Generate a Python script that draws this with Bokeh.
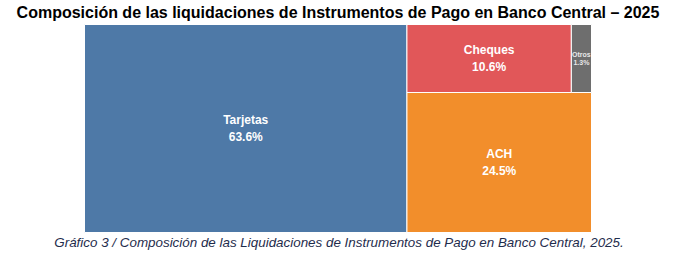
from bokeh.plotting import figure
from bokeh.models import ColumnDataSource, Range1d, Label
from bokeh.embed import file_html
from bokeh.resources import INLINE
from bokeh.core.properties import value

categories = ["Tarjetas", "ACH", "Cheques", "Otros"]
shares = [63.6, 24.5, 10.6, 1.3]
colors = ["#4E79A7", "#F28E2B", "#E15759", "#6E6E6E"]

W, H = 675, 257
AX, AY, AW, AH = 84, 24, 507, 208  # treemap area in pixel space (y down)


def worst(row, side, scale):
    s = sum(row) * scale
    mx, mn = max(row) * scale, min(row) * scale
    return max(side * side * mx / (s * s), s * s / (side * side * mn))


def squarify(vals, x, y, w, h):
    total = sum(vals)
    scale = (w * h) / total
    rects = []
    vals = list(vals)
    while vals:
        side = min(w, h)
        row = [vals[0]]
        i = 1
        while i < len(vals) and worst(row + [vals[i]], side, scale) <= worst(row, side, scale):
            row.append(vals[i])
            i += 1
        vals = vals[i:]
        area = sum(row) * scale
        if w >= h:
            cw = area / h
            cy = y
            for v in row:
                rh = v * scale / cw
                rects.append((x, cy, cw, rh))
                cy += rh
            x += cw
            w -= cw
        else:
            rh = area / w
            cx = x
            by = y + h - rh  # rows stacked from the bottom
            for v in row:
                rw = v * scale / rh
                rects.append((cx, by, rw, rh))
                cx += rw
            h -= rh
    return rects


rects = squarify(shares, AX, AY, AW, AH)

src = ColumnDataSource(dict(
    left=[r[0] for r in rects],
    right=[r[0] + r[2] for r in rects],
    top=[r[1] for r in rects],
    bottom=[r[1] + r[3] for r in rects],
    color=colors,
))

p = figure(width=W, height=H, output_backend="svg", toolbar_location=None,
           x_range=Range1d(0, W), y_range=Range1d(H, 0), min_border=0)
p.axis.visible = False
p.grid.visible = False
p.outline_line_color = None
p.background_fill_color = "white"
p.border_fill_color = "white"

p.quad(left="left", right="right", top="top", bottom="bottom", source=src,
       fill_color="color", line_color="white", line_width=1)

for (x, y, w, h), cat, s in zip(rects, categories, shares):
    small = w < 40
    fs = "7px" if small else "12px"
    p.text(x=[x + w / 2], y=[y + h / 2], text=[f"{cat}\n{s:.1f}%"],
           text_align="center", text_baseline="middle",
           text_color="#E8E8E8" if small else "white",
           text_font=value("Liberation Sans"),
           text_font_style="bold", text_font_size=fs,
           text_line_height=1.15)

p.add_layout(Label(x=W / 2, y=12, text="Composición de las liquidaciones de Instrumentos de Pago en Banco Central – 2025",
                   text_align="center", text_baseline="middle",
                   text_font="Liberation Sans", text_font_style="bold",
                   text_font_size="16px", text_color="black"))
p.add_layout(Label(x=W / 2 + 1, y=242, text="Gráfico 3 / Composición de las Liquidaciones de Instrumentos de Pago en Banco Central, 2025.",
                   text_align="center", text_baseline="middle",
                   text_font="Liberation Sans", text_font_style="italic",
                   text_font_size="13.4px", text_color="#1F2D4D"))

open("out.html", "w").write(file_html(p, INLINE))
